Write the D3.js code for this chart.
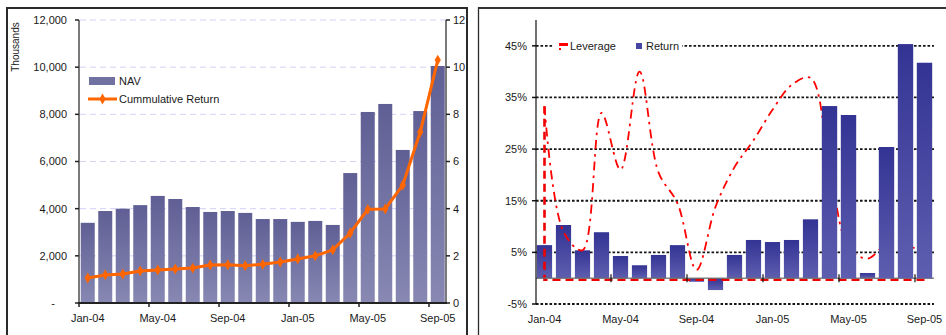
<!DOCTYPE html>
<html>
<head>
<meta charset="utf-8">
<script src="https://cdn.jsdelivr.net/npm/d3@7"></script>
<style>
  html, body { margin: 0; padding: 0; background: #fff; }
  svg { display: block; font-family: "Liberation Sans", Arial, sans-serif; }
</style>
</head>
<body>
<svg id="chart" width="946" height="335"></svg>
<script>
// ---- data ----
const months = ["Jan-04","Feb-04","Mar-04","Apr-04","May-04","Jun-04","Jul-04","Aug-04","Sep-04",
                "Oct-04","Nov-04","Dec-04","Jan-05","Feb-05","Mar-05","Apr-05","May-05","Jun-05",
                "Jul-05","Aug-05","Sep-05"];
// fund NAV, thousands
const navThousands = [3400,3900,4000,4150,4540,4410,4070,3860,3900,3820,3560,3560,3440,3480,3310,
                      5510,8100,8440,6490,8140,10050];
// cumulative return (right axis of NAV chart)
const cumulativeReturn = [1.06,1.19,1.23,1.36,1.40,1.44,1.48,1.61,1.62,1.58,1.64,1.74,1.87,2.00,2.25,
                          2.97,3.97,3.99,5.00,7.25,10.30];
// monthly return, percent
const monthlyReturn = [6.4,10.3,5.4,8.9,4.3,2.5,4.5,6.4,-0.7,-2.3,4.5,7.4,7.0,7.4,11.4,
                       33.3,31.6,1.0,25.4,45.3,41.7];
// leverage, percent
const leverage = [33.3,9,5.4,32,21,40,20.5,14.5,1.6,13.8,21.5,26.7,32.6,37.4,38.8,
                  22,6,3.8,6.5,6,5.8];

const navTicks = [0,2000,4000,6000,8000,10000,12000];
const cumTicks = [0,2,4,6,8,10,12];
const returnTicks = [-5,5,15,25,35,45];
const labelMonths = ["Jan-04","May-04","Sep-04","Jan-05","May-05","Sep-05"];

const svg = d3.select("#chart");
const defs = svg.append("defs");
const textColor = "#1a1a1a";

function vGradient(id, top, bottom) {
  const g = defs.append("linearGradient").attr("id", id)
    .attr("x1", 0).attr("y1", 0).attr("x2", 0).attr("y2", 1);
  g.append("stop").attr("offset", "0%").attr("stop-color", top);
  g.append("stop").attr("offset", "100%").attr("stop-color", bottom);
}
vGradient("navGrad", "#5f5f95", "#8888b3");
vGradient("retGrad", "#333394", "#5e5eb0");

// panel frames
svg.append("path").attr("d", "M7,340 V8 H467 V340")
  .attr("fill", "none").attr("stroke", "#2a2a2a").attr("stroke-width", 2);
svg.append("path").attr("d", "M478.5,340 V8 H950")
  .attr("fill", "none").attr("stroke", "#2a2a2a").attr("stroke-width", 1.3);
svg.append("line").attr("x1", 478).attr("x2", 950).attr("y1", 8).attr("y2", 8)
  .attr("stroke", "#333").attr("stroke-width", 2);

// ================= NAV / cumulative return =================
const xL = d3.scaleBand().domain(months).range([79, 446.5]).paddingInner(0.2).paddingOuter(0.1);
const yL = d3.scaleLinear().domain([0, 12000]).range([303, 20]);
const yR = d3.scaleLinear().domain([0, 12]).range([303, 20]);
const stepL = xL.step();
const left = svg.append("g");

// grid
left.append("g").selectAll("line").data(navTicks.filter(d => d > 0)).join("line")
  .attr("x1", 80).attr("x2", 446).attr("y1", d => yL(d)).attr("y2", d => yL(d))
  .attr("stroke", "#d2d2f6").attr("stroke-width", 1).attr("stroke-dasharray", "6,4");

// bars
left.append("g").selectAll("rect").data(navThousands).join("rect")
  .attr("x", (d, i) => xL(months[i]))
  .attr("width", xL.bandwidth())
  .attr("y", d => yL(d))
  .attr("height", d => yL(0) - yL(d))
  .attr("fill", "url(#navGrad)");

// axes lines
left.append("line").attr("x1", 79).attr("x2", 79).attr("y1", 20).attr("y2", 303)
  .attr("stroke", "#7a7a7a").attr("stroke-width", 2);
left.append("line").attr("x1", 446).attr("x2", 446).attr("y1", 20).attr("y2", 303)
  .attr("stroke", "#7a7a7a").attr("stroke-width", 2);
left.append("line").attr("x1", 78).attr("x2", 447).attr("y1", 303).attr("y2", 303)
  .attr("stroke", "#222").attr("stroke-width", 2);

// left ticks + labels
const lt = left.append("g").selectAll("g").data(navTicks).join("g");
lt.append("line").attr("x1", 75).attr("x2", 79).attr("y1", d => yL(d)).attr("y2", d => yL(d))
  .attr("stroke", "#222").attr("stroke-width", 1.5);
lt.append("text")
  .attr("x", d => d === 0 ? 55 : 67).attr("y", d => yL(d)).attr("dy", "0.35em")
  .attr("text-anchor", "end").attr("font-size", 11).attr("fill", textColor)
  .text(d => d === 0 ? "-" : d3.format(",")(d));

// right ticks + labels
const rt = left.append("g").selectAll("g").data(cumTicks).join("g");
rt.append("line").attr("x1", 446).attr("x2", 450).attr("y1", d => yR(d)).attr("y2", d => yR(d))
  .attr("stroke", "#222").attr("stroke-width", 1.5);
rt.append("text").attr("x", 453).attr("y", d => yR(d)).attr("dy", "0.35em")
  .attr("font-size", 11).attr("fill", textColor).text(d => d);

// category ticks and labels
const bIdxL = labelMonths.map(m => months.indexOf(m));
left.append("g").selectAll("line").data(bIdxL).join("line")
  .attr("x1", i => xL(months[i]) - stepL * 0.1).attr("x2", i => xL(months[i]) - stepL * 0.1)
  .attr("y1", 303).attr("y2", 307).attr("stroke", "#222").attr("stroke-width", 1.5);
left.append("g").selectAll("text").data(labelMonths).join("text")
  .attr("x", m => xL(m) + xL.bandwidth() / 2).attr("y", 322)
  .attr("text-anchor", "middle").attr("font-size", 11).attr("fill", textColor).text(m => m);

// "Thousands" unit label
left.append("text").attr("transform", "translate(19,47) rotate(-90)")
  .attr("text-anchor", "middle").attr("font-size", 10).attr("fill", textColor).text("Thousands");

// cumulative return line
const cumLine = d3.line()
  .x((d, i) => xL(months[i]) + xL.bandwidth() / 2)
  .y(d => yR(d));
left.append("path").datum(cumulativeReturn).attr("d", cumLine)
  .attr("fill", "none").attr("stroke", "#ff6600").attr("stroke-width", 3)
  .attr("stroke-linejoin", "round");
const diamond = d3.symbol().type(d3.symbolDiamond).size(34);
left.append("g").selectAll("path").data(cumulativeReturn).join("path")
  .attr("transform", (d, i) => `translate(${xL(months[i]) + xL.bandwidth() / 2},${yR(d)})`)
  .attr("d", diamond).attr("fill", "#ff6600");

// legend
const lg = left.append("g");
lg.append("rect").attr("x", 89).attr("y", 77).attr("width", 26).attr("height", 8).attr("fill", "#7272a2");
lg.append("text").attr("x", 119).attr("y", 81).attr("dy", "0.35em").attr("font-size", 11)
  .attr("fill", textColor).text("NAV");
lg.append("line").attr("x1", 88).attr("x2", 117).attr("y1", 99).attr("y2", 99)
  .attr("stroke", "#ff6600").attr("stroke-width", 3);
lg.append("path").attr("transform", "translate(102.5,99)").attr("d", diamond).attr("fill", "#ff6600");
lg.append("text").attr("x", 119).attr("y", 99).attr("dy", "0.35em").attr("font-size", 11)
  .attr("fill", textColor).text("Cummulative Return");

// ================= Leverage / monthly return =================
const xB = d3.scaleBand().domain(months).range([535, 934]).paddingInner(0.2).paddingOuter(0.1);
const yB = d3.scaleLinear().domain([-5, 50]).range([304, 20]);
const stepB = xB.step();
const right = svg.append("g");
const cx = m => xB(m) + xB.bandwidth() / 2;

// dotted grid
right.append("g").selectAll("line").data(returnTicks).join("line")
  .attr("x1", 536).attr("x2", 934).attr("y1", d => yB(d)).attr("y2", d => yB(d))
  .attr("stroke", "#151515").attr("stroke-width", 1.8).attr("stroke-dasharray", "2.6,1.9");

// return bars
right.append("g").selectAll("rect").data(monthlyReturn).join("rect")
  .attr("x", (d, i) => xB(months[i]))
  .attr("width", xB.bandwidth())
  .attr("y", d => yB(Math.max(0, d)))
  .attr("height", d => Math.abs(yB(d) - yB(0)))
  .attr("fill", "url(#retGrad)");

// leverage: lead-in and floor (thick dashed)
const y0 = yB(0);
right.append("path")
  .attr("d", `M${cx(months[months.length - 1])},${y0 + 1.5} H${cx(months[0])} V${yB(leverage[0])}`)
  .attr("fill", "none").attr("stroke", "#ee0000").attr("stroke-width", 2.6)
  .attr("stroke-dasharray", "8,5");

// zero axis
right.append("line").attr("x1", 536).attr("x2", 934).attr("y1", y0).attr("y2", y0)
  .attr("stroke", "#6e6e6e").attr("stroke-width", 1.6).attr("opacity", 0.85);
right.append("g").selectAll("line").data(bIdxL.slice(1)).join("line")
  .attr("x1", i => 535 + i * stepB).attr("x2", i => 535 + i * stepB)
  .attr("y1", y0 - 4).attr("y2", y0 + 4)
  .attr("stroke", "#111").attr("stroke-width", 1.2);

// leverage curve (smoothed, dash-dot)
const levLine = d3.line()
  .x((d, i) => cx(months[i]))
  .y(d => yB(d))
  .curve(d3.curveCatmullRom.alpha(0.5));
right.append("path").datum(leverage).attr("d", levLine)
  .attr("fill", "none").attr("stroke", "#ff0000").attr("stroke-width", 1.8)
  .attr("stroke-dasharray", "9,5,2.5,5");

// tall bars sit in front of the curve
right.append("g").selectAll("rect").data(monthlyReturn).join("rect")
  .attr("x", (d, i) => xB(months[i]))
  .attr("width", xB.bandwidth())
  .attr("y", d => yB(Math.max(0, d)))
  .attr("height", d => Math.abs(yB(d) - yB(0)))
  .attr("fill", "url(#retGrad)")
  .attr("display", d => d > 20 ? null : "none");

// value axis
right.append("line").attr("x1", 536).attr("x2", 536).attr("y1", 20).attr("y2", 304)
  .attr("stroke", "#111").attr("stroke-width", 1.2);
const bt = right.append("g").selectAll("g").data(returnTicks).join("g");
bt.append("line").attr("x1", 532).attr("x2", 536).attr("y1", d => yB(d)).attr("y2", d => yB(d))
  .attr("stroke", "#111").attr("stroke-width", 1.5);
bt.append("text").attr("x", 527).attr("y", d => yB(d)).attr("dy", "0.35em")
  .attr("text-anchor", "end").attr("font-size", 11).attr("fill", textColor)
  .text(d => d + "%");

// category labels
right.append("g").selectAll("text").data(labelMonths).join("text")
  .attr("x", m => cx(m)).attr("y", 323)
  .attr("text-anchor", "middle").attr("font-size", 11).attr("fill", textColor).text(m => m);

// legend
const rg = right.append("g");
rg.append("rect").attr("x", 553).attr("y", 38).attr("width", 129).attr("height", 16).attr("fill", "#fff");
rg.append("rect").attr("x", 559).attr("y", 43).attr("width", 9).attr("height", 3).attr("fill", "#ff0000");
rg.append("rect").attr("x", 559).attr("y", 48).attr("width", 2).attr("height", 2).attr("fill", "#ff0000");
rg.append("text").attr("x", 570).attr("y", 46).attr("dy", "0.35em").attr("font-size", 11)
  .attr("fill", textColor).text("Leverage");
rg.append("rect").attr("x", 636).attr("y", 43).attr("width", 6).attr("height", 6).attr("fill", "#4646a2");
rg.append("text").attr("x", 646).attr("y", 46).attr("dy", "0.35em").attr("font-size", 11)
  .attr("fill", textColor).text("Return");
</script>
</body>
</html>
